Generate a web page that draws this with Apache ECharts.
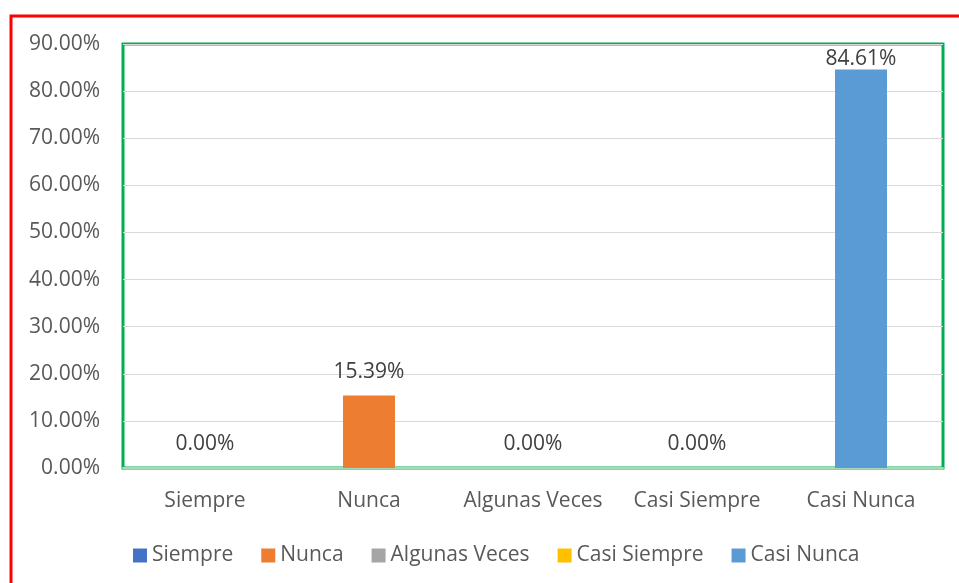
<!DOCTYPE html>
<html>
<head>
<meta charset="utf-8">
<script src="https://cdn.jsdelivr.net/npm/echarts@6/dist/echarts.min.js"></script>
<style>
html,body{margin:0;padding:0;background:#fff;}
#chart{width:959px;height:583px;}
</style>
</head>
<body>
<div id="chart"></div>
<script>
const categories = ['Siempre', 'Nunca', 'Algunas Veces', 'Casi Siempre', 'Casi Nunca'];
const values = [0.00, 15.39, 0.00, 0.00, 84.61];
const yTicks = [0, 10, 20, 30, 40, 50, 60, 70, 80, 90];

const colors = ['#4472C4', '#ED7D31', '#A5A5A5', '#FFC000', '#5B9BD5'];
const labelDistance = [13, 13, 13, 13, 0];
const FONT = 'Open Sans';
const FS = 21;

const series = categories.map((name, i) => ({
  name: name,
  type: 'bar',
  stack: 'all',
  barWidth: 52,
  itemStyle: { color: colors[i] },
  label: {
    show: true,
    position: 'top',
    distance: labelDistance[i],
    color: '#404040',
    fontFamily: FONT,
    fontSize: FS,
    formatter: p => Number(p.value).toFixed(2) + '%'
  },
  data: categories.map((c, j) => (j === i ? values[i] : '-'))
}));

const chart = echarts.init(document.getElementById('chart'), null, { renderer: 'canvas' });
chart.setOption({
  animation: false,
  backgroundColor: '#ffffff',
  graphic: [{
    type: 'rect',
    shape: { x: 11, y: 16, width: 1200, height: 1000 },
    style: { fill: 'none', stroke: '#FF0000', lineWidth: 3 },
    z: 100
  }],
  grid: {
    left: 123, right: 16, top: 44, bottom: 115,
    show: true,
    borderColor: '#00B050',
    borderWidth: 3,
    backgroundColor: 'transparent'
  },
  legend: {
    data: categories,
    left: 128,
    top: 540,
    itemWidth: 14,
    itemHeight: 14,
    itemGap: 28,
    icon: 'rect',
    textStyle: { color: '#595959', fontFamily: FONT, fontSize: FS }
  },
  xAxis: {
    type: 'category',
    data: categories,
    axisTick: { show: false },
    axisLine: { show: true, lineStyle: { color: '#A6D9B5', width: 2 } },
    axisLabel: { color: '#595959', fontFamily: FONT, fontSize: FS, margin: 23, interval: 0, hideOverlap: false }
  },
  yAxis: {
    type: 'value',
    min: yTicks[0],
    max: yTicks[yTicks.length - 1],
    interval: yTicks[1] - yTicks[0],
    axisLine: { show: false },
    axisTick: { show: false },
    splitLine: { lineStyle: { color: '#D9D9D9', width: 1 } },
    axisLabel: {
      color: '#595959', fontFamily: FONT, fontSize: FS, margin: 23,
      formatter: v => v.toFixed(2) + '%'
    }
  },
  series: series
});
</script>
</body>
</html>
